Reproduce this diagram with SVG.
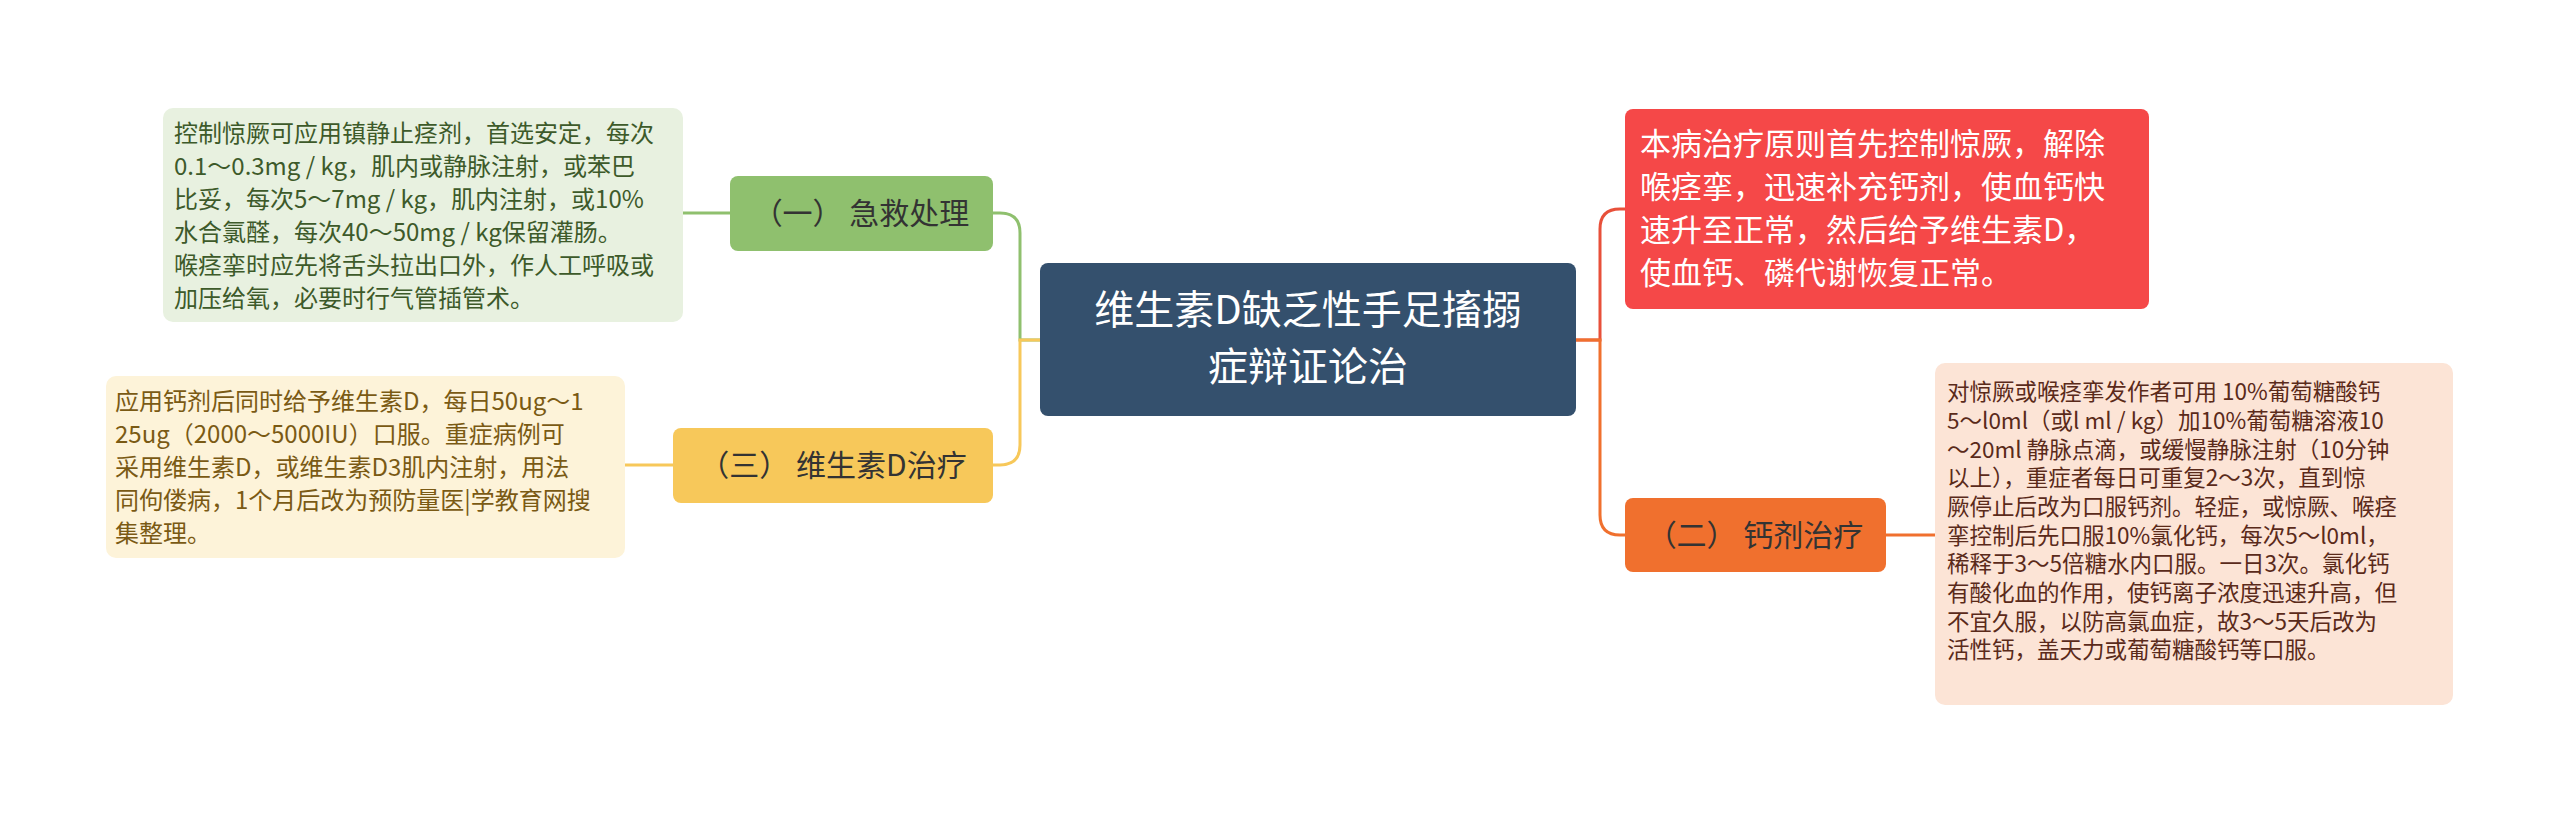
<svg xmlns="http://www.w3.org/2000/svg" width="2560" height="813" viewBox="0 0 2560 813">
<style>
text{font-family:"Noto Sans CJK SC","Liberation Sans",sans-serif}
.c{fill:none;stroke-width:3}
.l1{font-size:24px;fill:#3d5a2a}
.l3{font-size:24px;fill:#7a5a14}
.l2{font-size:22.5px;fill:#5a2a1a}
.r{font-size:31px;fill:#fff}
.n{font-size:30px;fill:#333}
</style>
<rect width="2560" height="813" fill="#fff"/>
<g id="connectors">
<path class="c" stroke="#8fc06e" d="M1040 340 H1020 V233 Q1020 213 1000 213 H993"/>
<path class="c" stroke="#f7c85a" d="M1040 340 H1020 V445 Q1020 465 1000 465 H993"/>
<path class="c" stroke="#e8503a" d="M1576 340 H1600 V229 Q1600 209 1620 209 H1625"/>
<path class="c" stroke="#f0702e" d="M1576 340 H1600 V515 Q1600 535 1620 535 H1625"/>
<path class="c" stroke="#8fc06e" d="M730 213 H683"/>
<path class="c" stroke="#f7c85a" d="M673 465 H625"/>
<path class="c" stroke="#f0702e" d="M1886 535 H1935"/>
</g>
<g id="center">
<rect x="1040" y="263" width="536" height="153" rx="8" fill="#34506d"/>
<text x="1308" y="324" text-anchor="middle" font-size="40" fill="#fff">维生素D缺乏性手足搐搦</text>
<text x="1308" y="381" text-anchor="middle" font-size="40" fill="#fff">症辩证论治</text>
</g>
<g id="n1">
<rect x="730" y="176" width="263" height="75" rx="8" fill="#8fc06e"/>
<text x="861" y="224" text-anchor="middle" class="n">（一） 急救处理</text>
</g>
<g id="leaf1">
<rect x="163" y="108" width="520" height="214" rx="10" fill="#e8f1e0"/>
<text class="l1" x="174" y="142">控制惊厥可应用镇静止痉剂，首选安定，每次</text>
<text class="l1" x="174" y="175">0.1～0.3mg / kg，肌内或静脉注射，或苯巴</text>
<text class="l1" x="174" y="208">比妥，每次5～7mg / kg，肌内注射，或10%</text>
<text class="l1" x="174" y="241">水合氯醛，每次40～50mg / kg保留灌肠。</text>
<text class="l1" x="174" y="274">喉痉挛时应先将舌头拉出口外，作人工呼吸或</text>
<text class="l1" x="174" y="307">加压给氧，必要时行气管插管术。</text>
</g>
<g id="n3">
<rect x="673" y="428" width="320" height="75" rx="8" fill="#f7c85a"/>
<text x="833" y="476" text-anchor="middle" class="n">（三） 维生素D治疗</text>
</g>
<g id="leaf3">
<rect x="106" y="376" width="519" height="182" rx="10" fill="#fdf3d9"/>
<text class="l3" x="115" y="410">应用钙剂后同时给予维生素D，每日50ug～1</text>
<text class="l3" x="115" y="443">25ug（2000～5000IU）口服。重症病例可</text>
<text class="l3" x="115" y="476">采用维生素D，或维生素D3肌内注射，用法</text>
<text class="l3" x="115" y="509">同佝偻病，1个月后改为预防量医|学教育网搜</text>
<text class="l3" x="115" y="542">集整理。</text>
</g>
<g id="red">
<rect x="1625" y="109" width="524" height="200" rx="8" fill="#f54848"/>
<text class="r" x="1640" y="155">本病治疗原则首先控制惊厥，解除</text>
<text class="r" x="1640" y="198">喉痉挛，迅速补充钙剂，使血钙快</text>
<text class="r" x="1640" y="241">速升至正常，然后给予维生素D，</text>
<text class="r" x="1640" y="284">使血钙、磷代谢恢复正常。</text>
</g>
<g id="n2">
<rect x="1625" y="498" width="261" height="74" rx="8" fill="#f0702e"/>
<text x="1755" y="546" text-anchor="middle" class="n">（二） 钙剂治疗</text>
</g>
<g id="leaf2">
<rect x="1935" y="363" width="518" height="342" rx="10" fill="#fce4d6"/>
<text class="l2" x="1947" y="400">对惊厥或喉痉挛发作者可用 10%葡萄糖酸钙</text>
<text class="l2" x="1947" y="429">5～l0ml（或l ml / kg）加10%葡萄糖溶液10</text>
<text class="l2" x="1947" y="458">～20ml 静脉点滴，或缓慢静脉注射（10分钟</text>
<text class="l2" x="1947" y="486">以上），重症者每日可重复2～3次，直到惊</text>
<text class="l2" x="1947" y="515">厥停止后改为口服钙剂。轻症，或惊厥、喉痉</text>
<text class="l2" x="1947" y="544">挛控制后先口服10%氯化钙，每次5～l0ml，</text>
<text class="l2" x="1947" y="572">稀释于3～5倍糖水内口服。一日3次。氯化钙</text>
<text class="l2" x="1947" y="601">有酸化血的作用，使钙离子浓度迅速升高，但</text>
<text class="l2" x="1947" y="630">不宜久服，以防高氯血症，故3～5天后改为</text>
<text class="l2" x="1947" y="658">活性钙，盖天力或葡萄糖酸钙等口服。</text>
</g>
</svg>
